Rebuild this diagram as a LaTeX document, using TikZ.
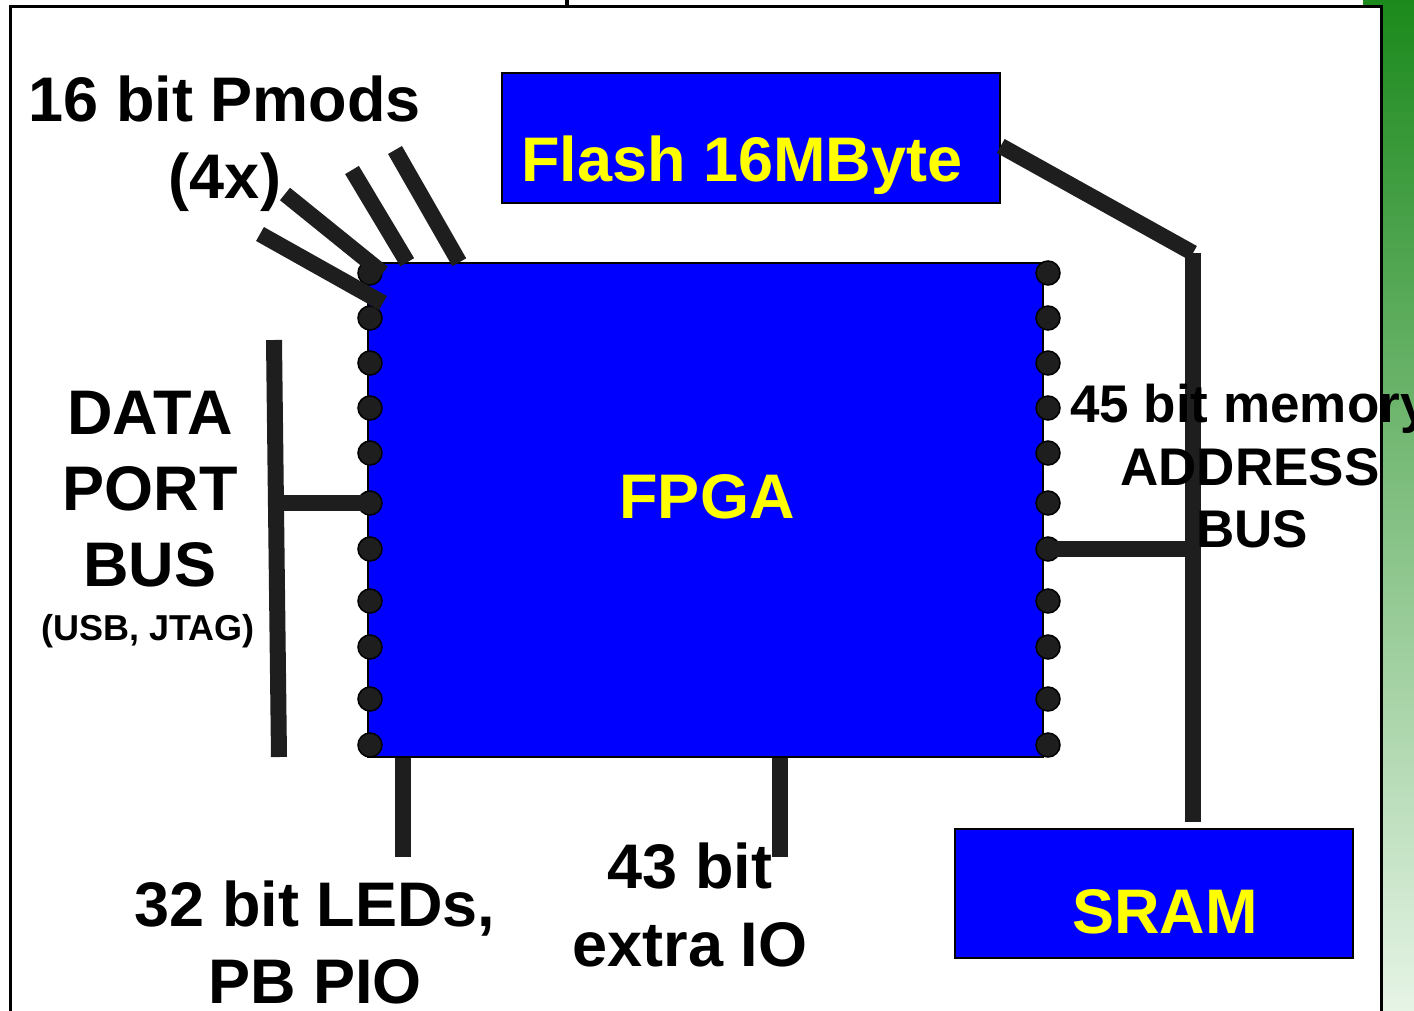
\documentclass[tikz,border=0pt]{standalone}
\usepackage{fontspec}
\setmainfont{Liberation Sans}
\usetikzlibrary{calc}

\definecolor{chipblue}{HTML}{0000FF}
\definecolor{chipyellow}{HTML}{FFFF00}
\definecolor{wire}{HTML}{1E1E1E}
\definecolor{slidegreen}{HTML}{1C8A1C}
\definecolor{slidemid}{HTML}{2BA52B}
\definecolor{slidepale}{HTML}{E6F4E6}

\begin{document}
\begin{tikzpicture}[x=1pt, y=-1pt,
  block/.style={rectangle, draw, fill=chipblue, line width=1.5pt, inner sep=0pt},
  pin/.style={circle, draw=black, fill=wire, line width=1.5pt, minimum size=24pt, inner sep=0pt},
  bus/.style={draw=wire, line width=16pt},
  big/.style={font=\fontsize{63}{70}\selectfont\bfseries, inner sep=0pt, anchor=base},
  mid/.style={font=\fontsize{53}{60}\selectfont\bfseries, inner sep=0pt, anchor=base},
  small/.style={font=\fontsize{36}{40}\selectfont\bfseries, inner sep=0pt, anchor=base},
  chiptext/.style={big, text=chipyellow}
]
%% Page, frame and green slide edge
\fill[white] (0,0) rectangle (1414,1010);
\useasboundingbox (0,0) rectangle (1414,1010);
\shade[top color=slidegreen, middle color=slidemid, bottom color=slidepale]
  (1383,0) rectangle (1414,1010);
\fill[slidegreen] (1363,0) rectangle (1414,5);
\draw[line width=3pt] (10,6) rectangle (1381,1040);
\draw[line width=4pt] (567,0) -- (567,8);

%% Blocks — fixed coordinates
\node[block, minimum width=675pt, minimum height=494pt] at (705.5,510) (fpga)  {};
\node[block, minimum width=498pt, minimum height=130pt] at (751,138)   (flash) {};
\node[block, minimum width=398pt, minimum height=129pt] at (1154,893.5) (sram) {};

%% Pins on both sides of the FPGA
\foreach \y [count=\i] in {273,318,363,408,453,503,549,601,647,699,745} {
  \node[pin] at (370,\y)  (l\i) {};
  \node[pin] at (1048,\y) (r\i) {};
}

%% Pmod wires (4x)
\coordinate (pm1) at (260,234);
\coordinate (pm2) at (285,194);
\coordinate (pm3) at (352,170);
\coordinate (pm4) at (395,150);
\draw[bus] (pm1) -- (383,303);
\draw[bus] (pm2) -- (l1.east);
\draw[bus] (pm3) -- ($(fpga.north west)+(40,0)$);
\draw[bus] (pm4) -- ($(fpga.north west)+(92,0)$);

%% Data port bus
\coordinate (dtop) at (274,340);
\coordinate (dbot) at (279,757);
\draw[bus] (dtop) -- (dbot);
\draw[bus] (l6.center) -- (l6 -| dtop);

%% Memory address bus (flash, SRAM)
\coordinate (mtop) at (1193,253);
\coordinate (mbot) at (1193,822);
\draw[bus] ([yshift=-8pt]flash.east) -- (mtop);
\draw[bus] (mtop) -- (mbot);
\draw[bus] (r7.center) -- (r7 -| mtop);

%% LEDs and extra IO
\coordinate (led) at (403,857);
\coordinate (xio) at (780,857);
\draw[bus] (led |- fpga.south) -- (led);
\draw[bus] (xio |- fpga.south) -- (xio);

%% Labels
\node[chiptext] at (707,518)  (fpgatxt)  {FPGA};
\node[chiptext] at (742,181)  (flashtxt) {Flash 16MByte};
\node[chiptext] at (1165,933) (sramtxt)  {SRAM};

\node[big] at (225,121) (pmods) {16 bit Pmods};
\node[big] at (225,198) (four)  {(4x)};

\node[big]   at (150,434) (data) {DATA};
\node[big]   at (150,510) (port) {PORT};
\node[big]   at (150,586) (dbus) {BUS};
\node[small] at (148,640) (usb)  {(USB, JTAG)};

\node[mid, anchor=base west] at (1070,422) (mem) {45 bit memory};
\node[mid] at (1250,485) (addr) {ADDRESS};
\node[mid] at (1252,547) (abus) {BUS};

\node[big] at (315,926)  (leds) {32 bit LEDs,};
\node[big] at (315,1003) (pb)   {PB PIO};
\node[big] at (690,888)  (bits) {43 bit};
\node[big] at (690,966)  (extra){extra IO};
\end{tikzpicture}
\end{document}
